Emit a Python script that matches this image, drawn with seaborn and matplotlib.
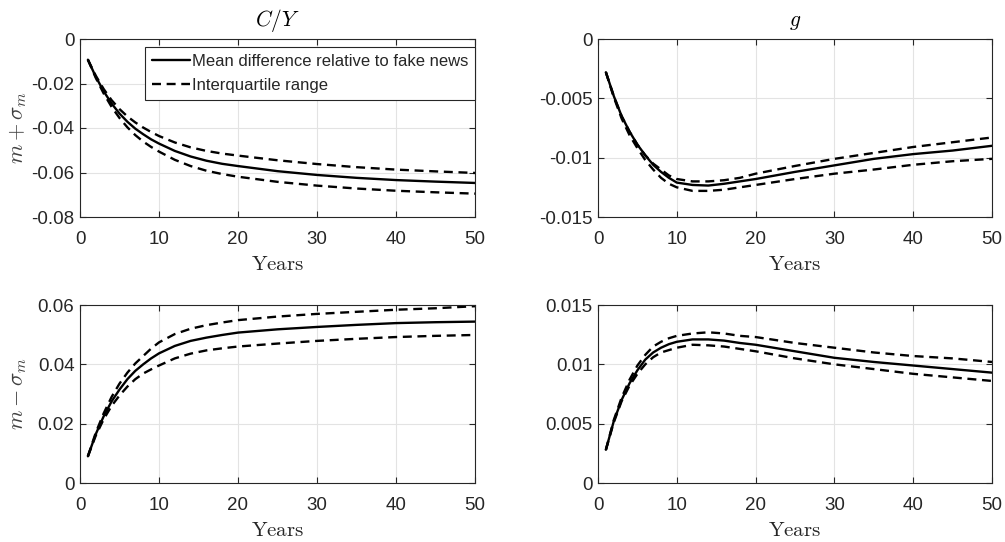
import numpy as np
import pandas as pd
import matplotlib
matplotlib.use("Agg")
import matplotlib.pyplot as plt
import seaborn as sns

years = [1, 2, 3, 4, 5, 6, 7, 8, 9, 10, 12, 14, 16, 18, 20, 25, 30, 35, 40, 45, 50]

# Top-left: C/Y, m + sigma_m
cy_plus_mean = [-0.0093, -0.0170, -0.0235, -0.0290, -0.0335, -0.0372, -0.0403, -0.0428, -0.0451, -0.0470,
                -0.0503, -0.0528, -0.0547, -0.0561, -0.0571, -0.0594, -0.0611, -0.0624, -0.0634, -0.0641, -0.0647]
cy_plus_q75 = [-0.0093, -0.0165, -0.0225, -0.0275, -0.0315, -0.0348, -0.0375, -0.0398, -0.0418, -0.0436,
               -0.0465, -0.0487, -0.0503, -0.0515, -0.0524, -0.0545, -0.0562, -0.0576, -0.0587, -0.0595, -0.0602]
cy_plus_q25 = [-0.0093, -0.0175, -0.0245, -0.0305, -0.0355, -0.0397, -0.0432, -0.0461, -0.0485, -0.0506,
               -0.0543, -0.0571, -0.0592, -0.0607, -0.0619, -0.0642, -0.0659, -0.0672, -0.0682, -0.0689, -0.0695]

# Top-right: g, m + sigma_m
g_plus_mean = [-0.0028, -0.0048, -0.0065, -0.0078, -0.0089, -0.0098, -0.0106, -0.0112, -0.0117, -0.0121,
               -0.0123, -0.01235, -0.0122, -0.0120, -0.0118, -0.0112, -0.01065, -0.0101, -0.0097, -0.0094, -0.0090]
g_plus_q75 = [-0.0028, -0.0048, -0.0065, -0.0078, -0.0089, -0.0098, -0.0105, -0.0110, -0.0115, -0.0118,
              -0.0120, -0.0120, -0.0119, -0.0117, -0.01135, -0.0107, -0.0101, -0.0096, -0.0091, -0.0087, -0.0083]
g_plus_q25 = [-0.0028, -0.0049, -0.0067, -0.0081, -0.0092, -0.0102, -0.0110, -0.0117, -0.0122, -0.0125,
              -0.0128, -0.0128, -0.0127, -0.0125, -0.0123, -0.0118, -0.01135, -0.0110, -0.0106, -0.0103, -0.0101]

# Bottom-left: C/Y, m - sigma_m
cy_minus_mean = [0.0090, 0.0165, 0.0225, 0.0275, 0.0315, 0.0350, 0.0378, 0.0400, 0.0420, 0.0437,
                 0.0462, 0.0479, 0.0490, 0.0499, 0.0507, 0.0518, 0.0526, 0.0533, 0.0539, 0.0542, 0.0544]
cy_minus_q75 = [0.0090, 0.0170, 0.0235, 0.0290, 0.0335, 0.0372, 0.0403, 0.0428, 0.0453, 0.0474,
                0.0502, 0.0520, 0.0532, 0.0541, 0.0549, 0.0561, 0.0570, 0.0577, 0.0584, 0.0589, 0.0596]
cy_minus_q25 = [0.0090, 0.0160, 0.0215, 0.0260, 0.0295, 0.0325, 0.0350, 0.0369, 0.0383, 0.0396,
                0.0420, 0.0436, 0.0447, 0.0454, 0.0460, 0.0470, 0.0479, 0.0486, 0.0492, 0.0496, 0.0499]

# Bottom-right: g, m - sigma_m
g_minus_mean = [0.0028, 0.0052, 0.0070, 0.0084, 0.0095, 0.0104, 0.0110, 0.0114, 0.0117, 0.0119,
                0.0121, 0.0121, 0.0120, 0.0118, 0.01165, 0.0111, 0.01055, 0.0102, 0.0099, 0.0096, 0.0093]
g_minus_q75 = [0.0028, 0.0053, 0.0072, 0.0087, 0.0099, 0.0108, 0.0115, 0.0119, 0.0122, 0.0124,
               0.0126, 0.0127, 0.0126, 0.0124, 0.0123, 0.0118, 0.0114, 0.0110, 0.0107, 0.0105, 0.0102]
g_minus_q25 = [0.0028, 0.0051, 0.0069, 0.0082, 0.0092, 0.0100, 0.0106, 0.0110, 0.0112, 0.0114,
               0.01165, 0.0116, 0.0115, 0.0113, 0.0111, 0.0105, 0.0100, 0.0096, 0.0092, 0.0089, 0.0086]

xticks = [0, 10, 20, 30, 40, 50]
cy_plus_yticks = [0, -0.02, -0.04, -0.06, -0.08]
cy_plus_ylabels = ["0", "-0.02", "-0.04", "-0.06", "-0.08"]
g_plus_yticks = [0, -0.005, -0.01, -0.015]
g_plus_ylabels = ["0", "-0.005", "-0.01", "-0.015"]
cy_minus_yticks = [0, 0.02, 0.04, 0.06]
cy_minus_ylabels = ["0", "0.02", "0.04", "0.06"]
g_minus_yticks = [0, 0.005, 0.01, 0.015]
g_minus_ylabels = ["0", "0.005", "0.01", "0.015"]

legend_labels = ["Mean difference relative to fake news", "Interquartile range"]

sns.set_style("whitegrid")
plt.rcParams["font.family"] = ["Liberation Sans", "DejaVu Sans"]
plt.rcParams["mathtext.fontset"] = "cm"

fig = plt.figure(figsize=(10.05, 5.42), dpi=100)
W, H = 1005, 542
def rect(l, t, r, b):
    return [l / W, 1 - b / H, (r - l) / W, (b - t) / H]

ax_tl = fig.add_axes(rect(80, 39, 475, 217))
ax_tr = fig.add_axes(rect(598, 39, 992, 217))
ax_bl = fig.add_axes(rect(80, 305, 475, 483))
ax_br = fig.add_axes(rect(598, 305, 992, 483))

panels = [
    (ax_tl, cy_plus_mean, cy_plus_q75, cy_plus_q25, (-0.08, 0), cy_plus_yticks, cy_plus_ylabels, r"$C/Y$", r"$m+\sigma_m$"),
    (ax_tr, g_plus_mean, g_plus_q75, g_plus_q25, (-0.015, 0), g_plus_yticks, g_plus_ylabels, r"$g$", None),
    (ax_bl, cy_minus_mean, cy_minus_q75, cy_minus_q25, (0, 0.06), cy_minus_yticks, cy_minus_ylabels, None, r"$m-\sigma_m$"),
    (ax_br, g_minus_mean, g_minus_q75, g_minus_q25, (0, 0.015), g_minus_yticks, g_minus_ylabels, None, None),
]

spine_col = "#262626"
for ax, mean, q75, q25, ylim, yt, yl, title, ylabel in panels:
    df = pd.DataFrame({"Years": years, "mean": mean, "q75": q75, "q25": q25})
    sns.lineplot(data=df, x="Years", y="mean", ax=ax, color="black", lw=1.7, label=legend_labels[0])
    sns.lineplot(data=df, x="Years", y="q75", ax=ax, color="black", lw=1.7, ls=(0, (3.8, 2.4)), label=legend_labels[1])
    sns.lineplot(data=df, x="Years", y="q25", ax=ax, color="black", lw=1.7, ls=(0, (3.8, 2.4)))
    ax.set_xlim(0, 50)
    ax.set_ylim(*ylim)
    ax.set_xticks(xticks)
    ax.set_xticklabels([str(v) for v in xticks])
    ax.set_yticks(yt)
    ax.set_yticklabels(yl)
    ax.grid(True, color="#e3e3e3", lw=0.8)
    ax.set_facecolor("white")
    for s in ax.spines.values():
        s.set_visible(True)
        s.set_color(spine_col)
        s.set_linewidth(0.8)
    ax.tick_params(axis="both", which="both", direction="in", length=4, width=0.8,
                   colors=spine_col, labelcolor="#262626", labelsize=13.5,
                   top=True, right=True, bottom=True, left=True)
    ax.tick_params(axis="x", pad=10)
    ax.tick_params(axis="y", pad=4)
    ax.set_xlabel(r"$\mathrm{Years}$", fontsize=15, color="#262626", labelpad=5)
    if ylabel:
        ax.set_ylabel(ylabel, fontsize=16, color="#404040")
        ax.yaxis.set_label_coords(-0.128, 0.5)
    else:
        ax.set_ylabel("")
    if title:
        ax.set_title(title, fontsize=15.5, color="black", pad=9)
    if ax is ax_tl:
        leg = ax.legend(loc="upper right", bbox_to_anchor=(1.0, 0.955), fontsize=12,
                        frameon=True, fancybox=False, framealpha=1, edgecolor="#262626",
                        handlelength=2.3, handletextpad=0.1, borderpad=0.4, labelspacing=0.55,
                        borderaxespad=0.0)
        leg.get_frame().set_linewidth(0.8)
    else:
        lg = ax.get_legend()
        if lg is not None:
            lg.remove()

fig.savefig("out.png", dpi=100)
